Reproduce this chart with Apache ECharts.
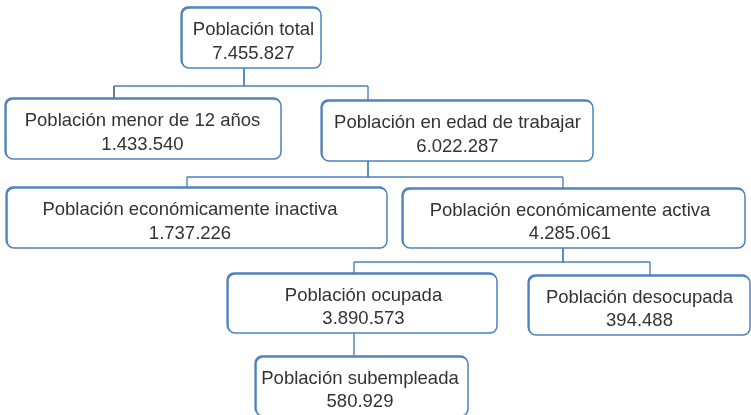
<!DOCTYPE html>
<html>
<head>
<meta charset="utf-8">
<script src="https://cdn.jsdelivr.net/npm/echarts@6/dist/echarts.min.js"></script>
<style>
  html, body { margin: 0; padding: 0; background: #fff; }
  #chart { width: 751px; height: 415px; }
</style>
</head>
<body>
<div id="chart"></div>
<script>
// hierarchy data
const names = [
    'Población total',
    'Población menor de 12 años',
    'Población en edad de trabajar',
    'Población económicamente inactiva',
    'Población económicamente activa',
    'Población ocupada',
    'Población desocupada',
    'Población subempleada'
];
const values = [7455827, 1433540, 6022287, 1737226, 4285061, 3890573, 394488, 580929];
const parents = [-1, 0, 0, 2, 2, 4, 4, 5];

// layout of the diagram (box corners, connector stem x, bus y below a parent)
const boxes = [
    [182, 8, 321, 68],
    [6, 99, 281, 159],
    [322, 101, 593, 161],
    [7, 188, 387, 248],
    [403, 189, 745, 248],
    [228, 274, 497, 333],
    [529, 276, 750, 335],
    [256, 357, 468, 416]
];
const stemX = [244, 114, 368, 187, 563, 354, 650, 354];
const busY = [86, null, 177, null, 262, 345, null, null];
// text is not always centred in its box
const textDx = [2, -1, 0, -7, -4, 1, 0, -2];
// colour of the drop line into each box (one of them is dark in the original)
const dropColors = [null, '#404040', null, null, null, null, null, null];

const lineColor = '#4F81BD';

function fmt(v) {
    return String(v).replace(/\B(?=(\d{3})+(?!\d))/g, '.');
}

let chart = echarts.init(document.getElementById('chart'), null, { renderer: 'canvas' });

let edgeData = [];
parents.forEach((p, i) => { if (p >= 0) edgeData.push([i, p]); });

chart.setOption({
    animation: false,
    grid: { left: 0, right: 0, top: 0, bottom: 0 },
    xAxis: { type: 'value', min: 0, max: 751, show: false },
    yAxis: { type: 'value', min: 0, max: 415, inverse: true, show: false },
    series: [{
        type: 'custom',
        coordinateSystem: 'cartesian2d',
        silent: true,
        clip: false,
        data: edgeData,
        renderItem: (params, api) => {
            let c = api.value(0), p = api.value(1);
            let upper = [
                [stemX[p], boxes[p][3]],
                [stemX[p], busY[p]],
                [stemX[c], busY[p]]
            ].map(pt => api.coord(pt));
            let drop = [
                [stemX[c], busY[p]],
                [stemX[c], boxes[c][1]]
            ].map(pt => api.coord(pt));
            return {
                type: 'group',
                children: [{
                    type: 'polyline',
                    shape: { points: drop },
                    style: { stroke: dropColors[c] || lineColor, lineWidth: 1.4, fill: null }
                }, {
                    type: 'polyline',
                    shape: { points: upper },
                    style: { stroke: lineColor, lineWidth: 1.4, fill: null }
                }]
            };
        }
    }, {
        type: 'custom',
        coordinateSystem: 'cartesian2d',
        silent: true,
        clip: false,
        data: names.map((n, i) => [i]),
        renderItem: (params, api) => {
            let i = api.value(0);
            let b = boxes[i];
            let tl = api.coord([b[0], b[1]]);
            let br = api.coord([b[2], b[3]]);
            let w = br[0] - tl[0], h = br[1] - tl[1];
            return {
                type: 'group',
                children: [{
                    type: 'rect',
                    shape: { x: tl[0] - 0.8, y: tl[1] - 1, width: w, height: h, r: 7 },
                    style: { fill: null, stroke: '#4A7EBB', lineWidth: 1.6 }
                }, {
                    type: 'rect',
                    shape: { x: tl[0], y: tl[1], width: w, height: h, r: 7 },
                    style: { fill: '#fff', stroke: lineColor, lineWidth: 1.5 }
                }, {
                    type: 'text',
                    style: {
                        text: names[i] + '\n' + fmt(values[i]),
                        x: (tl[0] + br[0]) / 2 + textDx[i],
                        y: (tl[1] + br[1]) / 2 + 4,
                        align: 'center',
                        verticalAlign: 'middle',
                        fontSize: 18.5,
                        lineHeight: 23.5,
                        fontFamily: '"Liberation Sans", Arial, sans-serif',
                        fill: '#333'
                    }
                }]
            };
        }
    }]
});
</script>
</body>
</html>
